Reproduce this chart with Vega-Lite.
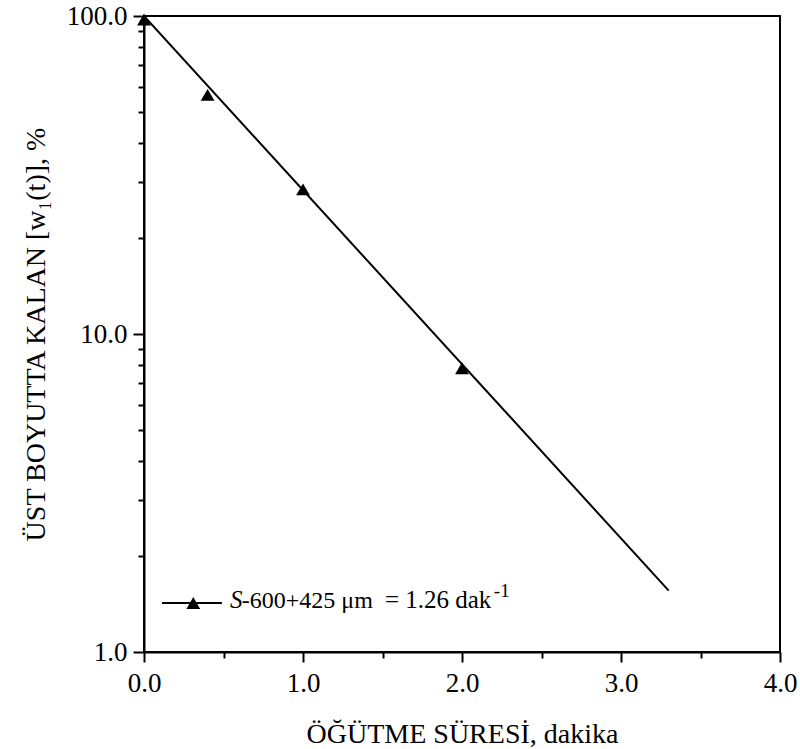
{
  "$schema": "https://vega.github.io/schema/vega-lite/v6.json",
  "width": 636,
  "height": 636,
  "autosize": {"type": "none"},
  "padding": {"left": 144, "top": 16, "right": 20, "bottom": 97},
  "background": "white",
  "config": {
    "view": {"stroke": "black", "strokeWidth": 2},
    "font": "Liberation Serif",
    "axis": {
      "grid": false,
      "domainColor": "black",
      "domainWidth": 2,
      "tickColor": "black",
      "tickWidth": 2,
      "labelFont": "Liberation Serif",
      "labelFontSize": 27,
      "labelColor": "black",
      "titleFont": "Liberation Serif",
      "titleFontSize": 28,
      "titleFontWeight": "normal",
      "titleColor": "black",
      "labelFlush": false,
      "labelOverlap": false
    }
  },
  "datasets": {
    "points": [
      {"t": 0.0, "w": 97.5},
      {"t": 0.4, "w": 56.5},
      {"t": 1.0, "w": 28.5},
      {"t": 2.0, "w": 7.8}
    ],
    "fit": [
      {"t": 0.0, "w": 100.0},
      {"t": 3.3, "w": 1.56}
    ],
    "legline": [
      {"t": 0.113, "w": 1.426},
      {"t": 0.49, "w": 1.426}
    ],
    "legsym": [
      {"t": 0.31, "w": 1.426}
    ],
    "legtext": [
      {"t": 0.541, "w": 1.375, "txt": "S", "part": "italic"},
      {"t": 0.615, "w": 1.375, "txt": "-600+425 μm", "part": "sub"},
      {"t": 1.515, "w": 1.375, "txt": "= 1.26 dak", "part": "main"},
      {"t": 2.2, "w": 1.49, "txt": "-1", "part": "sup"}
    ]
  },
  "encoding": {
    "x": {
      "field": "t",
      "type": "quantitative",
      "scale": {"domain": [0, 4], "nice": false},
      "axis": {
        "title": "ÖĞÜTME SÜRESİ, dakika",
        "values": [0, 0.5, 1, 1.5, 2, 2.5, 3, 3.5, 4],
        "labelExpr": "datum.value % 1 == 0 ? format(datum.value, '.1f') : ''",
        "tickSize": {"condition": {"test": "datum.value % 1 == 0", "value": 10}, "value": 6},
        "labelPadding": 8,
        "titlePadding": 24
      }
    },
    "y": {
      "field": "w",
      "type": "quantitative",
      "scale": {"type": "log", "domain": [1, 100], "nice": false},
      "axis": {
        "title": "ÜST BOYUTTA KALAN [w₁(t)], %",
        "values": [1, 2, 3, 4, 5, 6, 7, 8, 9, 10, 20, 30, 40, 50, 60, 70, 80, 90, 100],
        "labelExpr": "(datum.value == 1 || datum.value == 10 || datum.value == 100) ? format(datum.value, '.1f') : ''",
        "tickSize": {"condition": {"test": "datum.value == 1 || datum.value == 10 || datum.value == 100", "value": 11}, "value": 6},
        "labelPadding": 6,
        "titlePadding": 16
      }
    }
  },
  "layer": [
    {
      "data": {"name": "fit"},
      "mark": {"type": "line", "color": "black", "strokeWidth": 2, "clip": true}
    },
    {
      "data": {"name": "points"},
      "mark": {"type": "point", "shape": "triangle-up", "filled": true, "color": "black", "opacity": 1, "size": 190}
    },
    {
      "data": {"name": "legline"},
      "mark": {"type": "line", "color": "black", "strokeWidth": 2}
    },
    {
      "data": {"name": "legsym"},
      "mark": {"type": "point", "shape": "triangle-up", "filled": true, "color": "black", "opacity": 1, "size": 190}
    },
    {
      "data": {"name": "legtext"},
      "transform": [{"filter": "datum.part == 'italic'"}],
      "mark": {"type": "text", "align": "left", "baseline": "alphabetic", "fontSize": 25, "fontStyle": "italic", "font": "Liberation Serif", "color": "black"},
      "encoding": {"text": {"field": "txt"}}
    },
    {
      "data": {"name": "legtext"},
      "transform": [{"filter": "datum.part == 'sub'"}],
      "mark": {"type": "text", "align": "left", "baseline": "alphabetic", "fontSize": 24, "font": "Liberation Serif", "color": "black"},
      "encoding": {"text": {"field": "txt"}}
    },
    {
      "data": {"name": "legtext"},
      "transform": [{"filter": "datum.part == 'main'"}],
      "mark": {"type": "text", "align": "left", "baseline": "alphabetic", "fontSize": 25, "font": "Liberation Serif", "color": "black"},
      "encoding": {"text": {"field": "txt"}}
    },
    {
      "data": {"name": "legtext"},
      "transform": [{"filter": "datum.part == 'sup'"}],
      "mark": {"type": "text", "align": "left", "baseline": "alphabetic", "fontSize": 19, "font": "Liberation Serif", "color": "black"},
      "encoding": {"text": {"field": "txt"}}
    }
  ]
}
